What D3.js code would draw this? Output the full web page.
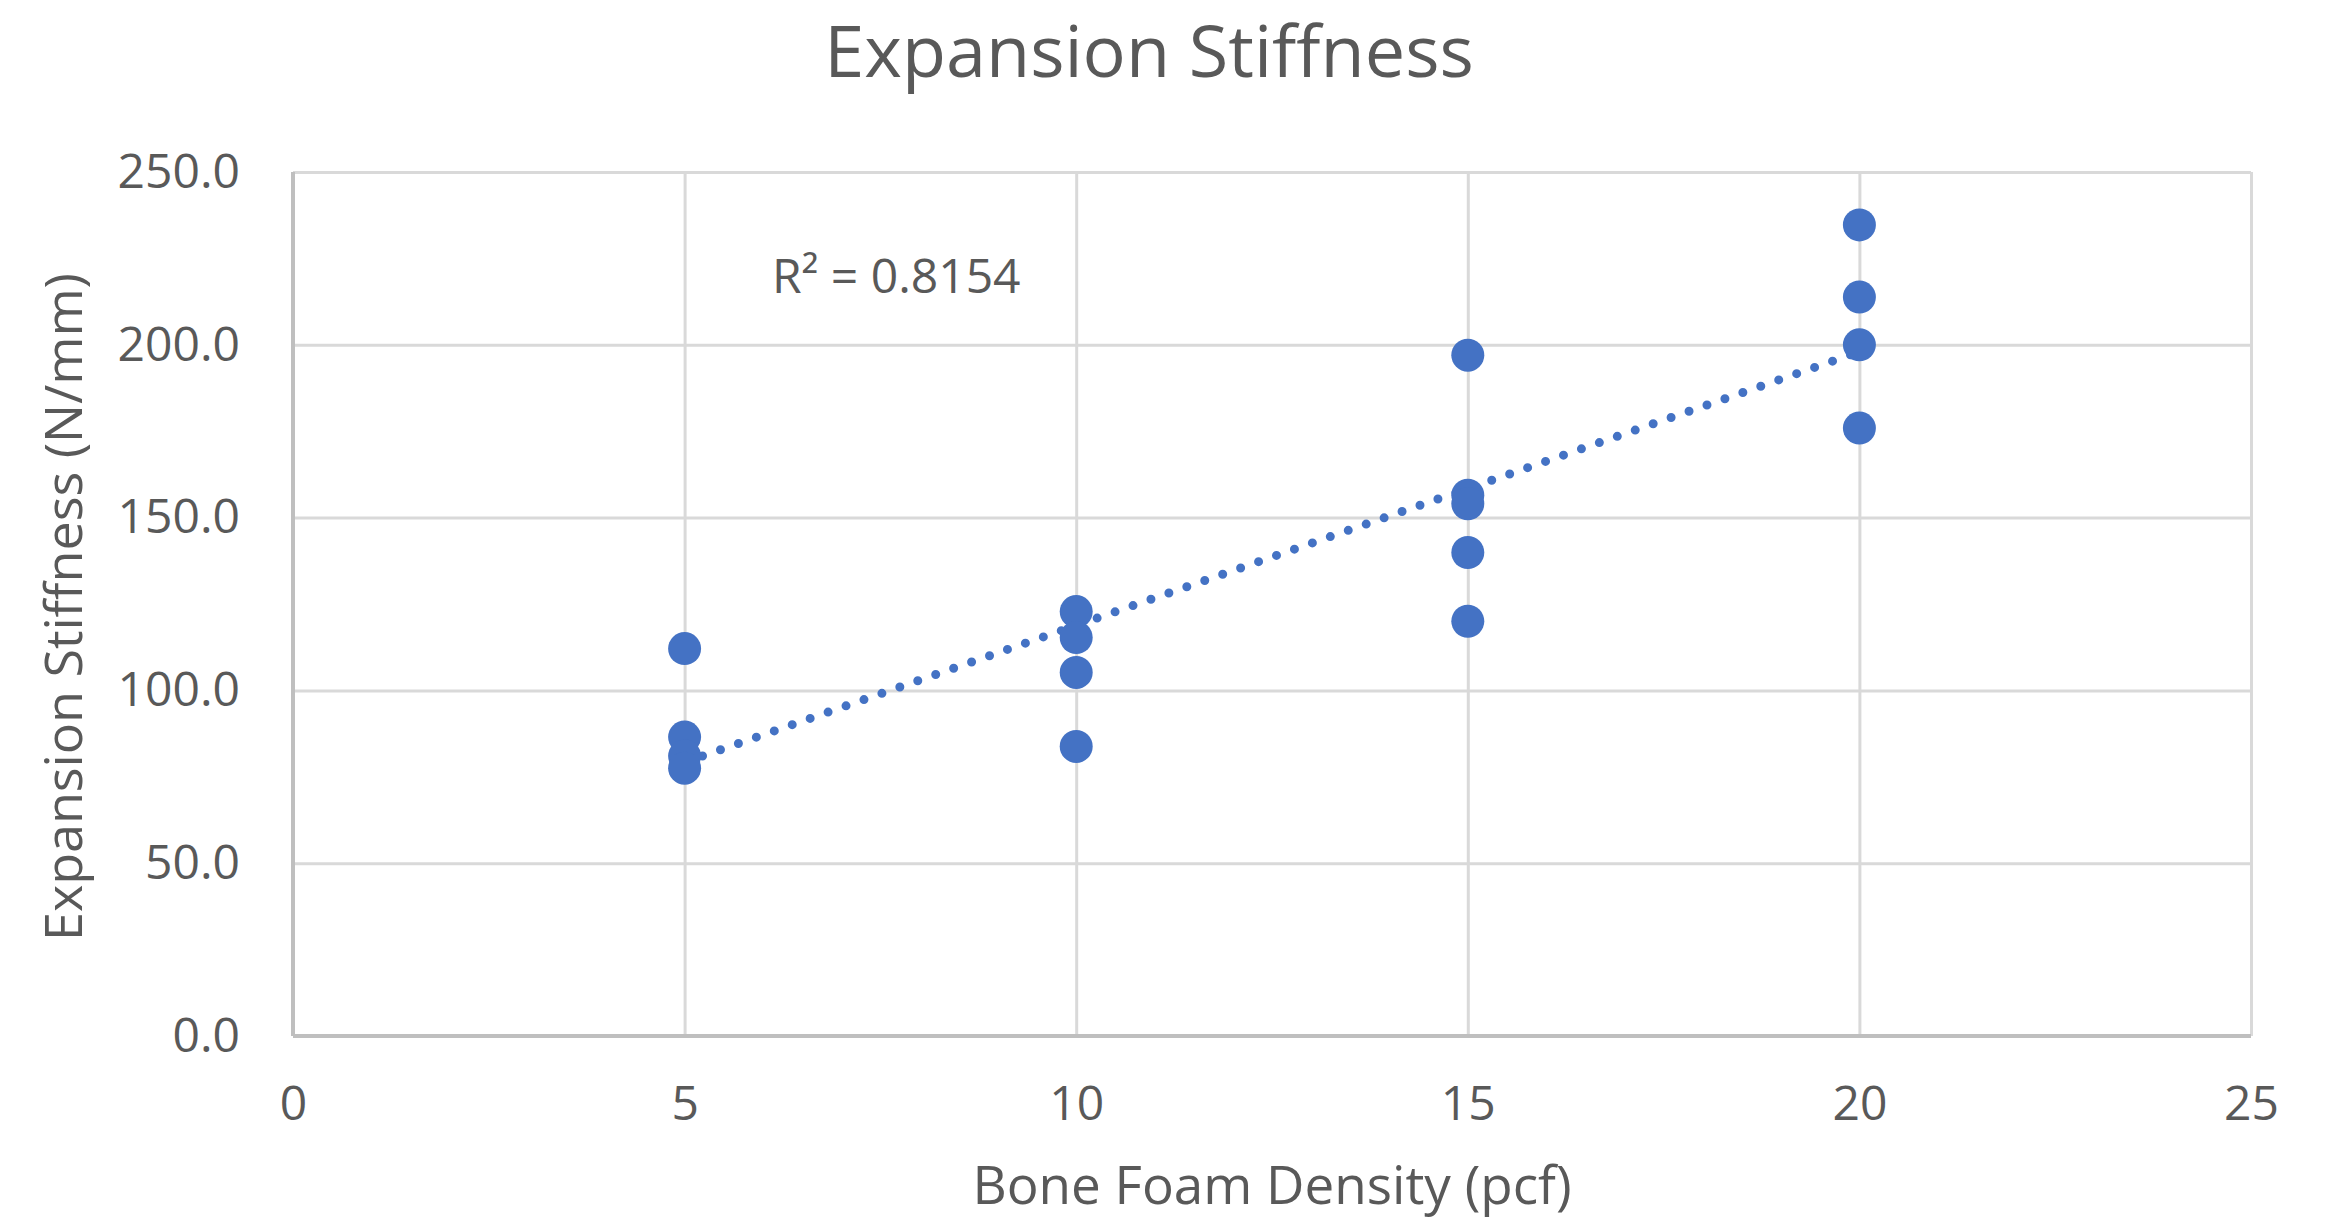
<!DOCTYPE html>
<html>
<head>
<meta charset="utf-8">
<script src="https://cdn.jsdelivr.net/npm/d3@7"></script>
<style>
  body { margin: 0; background: #fff; }
  text { font-family: "Open Sans", sans-serif; fill: #595959; }
</style>
</head>
<body>
<div id="chart"></div>
<script>
const density = [5, 5, 5, 5, 10, 10, 10, 10, 15, 15, 15, 15, 15, 20, 20, 20, 20];
const stiffness = [112.1, 86.5, 81.0, 77.5, 122.8, 115.3, 105.2, 83.8, 197.0, 156.5, 154.0, 139.9, 120.0, 234.7, 213.8, 200.0, 175.9];
const xTicks = [0, 5, 10, 15, 20, 25];
const yTicks = [0, 50, 100, 150, 200, 250];
const rSquaredLabel = "R² = 0.8154";

const W = 2331, H = 1223;
const margin = { top: 172, right: 80, bottom: 187, left: 293 };
const width = W - margin.left - margin.right;
const height = H - margin.top - margin.bottom;

const svg = d3.select("#chart").append("svg")
  .attr("width", W)
  .attr("height", H);

const g = svg.append("g")
  .attr("transform", `translate(${margin.left},${margin.top})`);

const x = d3.scaleLinear().domain([0, 25]).range([0, width]);
const y = d3.scaleLinear().domain([0, 250]).range([height, 0]);

// gridlines
g.append("g")
  .attr("transform", `translate(0,${height})`)
  .call(d3.axisBottom(x).tickValues(xTicks).tickSize(-height).tickFormat(""))
  .call(a => a.select(".domain").remove())
  .call(a => a.selectAll("line").attr("stroke", "#d9d9d9").attr("stroke-width", 3));

g.append("g")
  .call(d3.axisLeft(y).tickValues(yTicks).tickSize(-width).tickFormat(""))
  .call(a => a.select(".domain").remove())
  .call(a => a.selectAll("line").attr("stroke", "#d9d9d9").attr("stroke-width", 3));

// axis lines
g.append("line")
  .attr("x1", 0).attr("x2", 0).attr("y1", 0).attr("y2", height)
  .attr("stroke", "#bfbfbf").attr("stroke-width", 4);
g.append("line")
  .attr("x1", 0).attr("x2", width).attr("y1", height).attr("y2", height)
  .attr("stroke", "#bfbfbf").attr("stroke-width", 4);

// tick labels
g.append("g")
  .attr("transform", `translate(0,${height})`)
  .call(d3.axisBottom(x).tickValues(xTicks).tickSize(0).tickPadding(50).tickFormat(d3.format("d")))
  .call(a => a.select(".domain").remove())
  .call(a => a.selectAll("text").attr("font-size", 48).attr("fill", "#595959").attr("font-family", "Open Sans"));

g.append("g")
  .call(d3.axisLeft(y).tickValues(yTicks).tickSize(0).tickPadding(53).tickFormat(d3.format(".1f")))
  .call(a => a.select(".domain").remove())
  .call(a => a.selectAll("text").attr("font-size", 48).attr("fill", "#595959").attr("font-family", "Open Sans"));

// trendline (least squares)
const n = density.length;
const mx = d3.mean(density), my = d3.mean(stiffness);
let sxy = 0, sxx = 0;
for (let i = 0; i < n; i++) {
  sxy += (density[i] - mx) * (stiffness[i] - my);
  sxx += (density[i] - mx) ** 2;
}
const slope = sxy / sxx;
const intercept = my - slope * mx;
const x0 = d3.min(density), x1 = d3.max(density);

g.append("line")
  .attr("x1", x(x0)).attr("y1", y(intercept + slope * x0))
  .attr("x2", x(x1)).attr("y2", y(intercept + slope * x1))
  .attr("stroke", "#4472c4")
  .attr("stroke-width", 9)
  .attr("stroke-linecap", "round")
  .attr("stroke-dasharray", "0 19");

// points
g.selectAll("circle")
  .data(density.map((d, i) => [d, stiffness[i]]))
  .join("circle")
  .attr("cx", d => x(d[0]))
  .attr("cy", d => y(d[1]))
  .attr("r", 16.5)
  .attr("fill", "#4472c4");

// R² label
g.append("text")
  .attr("x", 772 - margin.left)
  .attr("y", 293 - margin.top)
  .attr("font-size", 48)
  .text(rSquaredLabel);

// titles
svg.append("text")
  .attr("x", 1149).attr("y", 77)
  .attr("text-anchor", "middle")
  .attr("font-size", 72)
  .text("Expansion Stiffness");

svg.append("text")
  .attr("x", margin.left + width / 2).attr("y", 1204)
  .attr("text-anchor", "middle")
  .attr("font-size", 53)
  .text("Bone Foam Density (pcf)");

svg.append("text")
  .attr("transform", `translate(82,607) rotate(-90)`)
  .attr("text-anchor", "middle")
  .attr("font-size", 52)
  .text("Expansion Stiffness (N/mm)");
</script>
</body>
</html>
